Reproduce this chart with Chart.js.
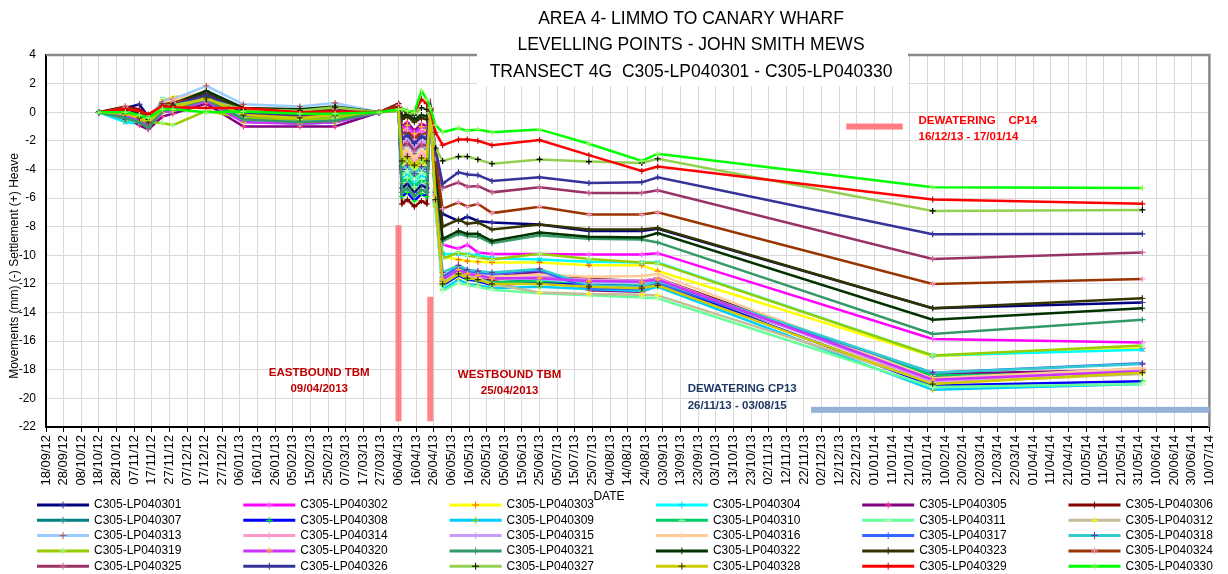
<!DOCTYPE html>
<html>
<head>
<meta charset="utf-8">
<title>Transect 4G - John Smith Mews</title>
<script src="https://cdn.jsdelivr.net/npm/chart.js@4.4.1/dist/chart.umd.min.js"></script>
<style>
  html, body { margin: 0; padding: 0; background: #fff; }
  canvas { display: block; }
</style>
</head>
<body>
<canvas id="settlementChart" width="1228" height="574"></canvas>
<script>
// Tanggal survei (dd/mm/yy)
const SURVEY_DATES = [
  "18/10/12", "02/11/12", "10/11/12", "15/11/12", "23/11/12", "29/11/12",
  "18/12/12", "08/01/13", "09/02/13", "01/03/13", "26/03/13", "06/04/13",
  "08/04/13", "11/04/13", "15/04/13", "19/04/13", "22/04/13", "24/04/13", "27/04/13",
  "01/05/13", "10/05/13", "15/05/13", "21/05/13", "29/05/13", "25/06/13",
  "23/07/13", "22/08/13", "31/08/13", "03/02/14", "02/06/14"
];

// Label sumbu X tiap 10 hari
const TICK_LABELS = [
  "18/09/12", "28/09/12", "08/10/12", "18/10/12", "28/10/12", "07/11/12", "17/11/12", "27/11/12",
  "07/12/12", "17/12/12", "27/12/12", "06/01/13", "16/01/13", "26/01/13", "05/02/13", "15/02/13",
  "25/02/13", "07/03/13", "17/03/13", "27/03/13", "06/04/13", "16/04/13", "26/04/13", "06/05/13",
  "16/05/13", "26/05/13", "05/06/13", "15/06/13", "25/06/13", "05/07/13", "15/07/13", "25/07/13",
  "04/08/13", "14/08/13", "24/08/13", "03/09/13", "13/09/13", "23/09/13", "03/10/13", "13/10/13",
  "23/10/13", "02/11/13", "12/11/13", "22/11/13", "02/12/13", "12/12/13", "22/12/13", "01/01/14",
  "11/01/14", "21/01/14", "31/01/14", "10/02/14", "20/02/14", "02/03/14", "12/03/14", "22/03/14",
  "01/04/14", "11/04/14", "21/04/14", "01/05/14", "11/05/14", "21/05/14", "31/05/14", "10/06/14",
  "20/06/14", "30/06/14", "10/07/14"
];

const Y_TICKS_MIN = -22;
const Y_TICKS_MAX = 4;

// Nama titik levelling
const POINT_NAMES = [
  "C305-LP040301", "C305-LP040302", "C305-LP040303", "C305-LP040304", "C305-LP040305", "C305-LP040306",
  "C305-LP040307", "C305-LP040308", "C305-LP040309", "C305-LP040310", "C305-LP040311", "C305-LP040312",
  "C305-LP040313", "C305-LP040314", "C305-LP040315", "C305-LP040316", "C305-LP040317", "C305-LP040318",
  "C305-LP040319", "C305-LP040320", "C305-LP040321", "C305-LP040322", "C305-LP040323", "C305-LP040324",
  "C305-LP040325", "C305-LP040326", "C305-LP040327", "C305-LP040328", "C305-LP040329", "C305-LP040330"
];

const LINE_COLORS = [
  "#000080", "#FF00FF", "#FFFF00", "#00FFFF", "#800080", "#800000",
  "#008080", "#0000FF", "#00CCFF", "#00CC66", "#66FF99", "#C4BD97",
  "#99CCFF", "#FF99CC", "#CC99FF", "#FFCC99", "#3366FF", "#33CCCC",
  "#99CC00", "#CC33FF", "#339966", "#003300", "#333300", "#993300",
  "#993366", "#333399", "#92D050", "#CCCC00", "#FF0000", "#00FF00"
];

const MARKER_COLORS = [
  "#333399", "#FF66FF", "#FF6600", "#00CCFF", "#FF3399", "#800000",
  "#339999", "#00FF00", "#99CC00", "#99FF99", "#CCFFCC", "#FFFF00",
  "#C0504D", "#FF99CC", "#CC99FF", "#FFCC99", "#3366FF", "#7030A0",
  "#99FF99", "#FFC000", "#339966", "#003300", "#333300", "#FF99CC",
  "#CC6699", "#333399", "#000000", "#333300", "#CC0000", "#99FF66"
];

// Nilai pergerakan (mm) tiap titik, urut sesuai SURVEY_DATES
const lp301 = [0, 0.3, 0.55, -0.3, 0.2, 0.3, 1.1, -0.2, -0.4, -0.2, 0, 0.4, -5.3, -5.0, -5.6, -5.1, -5.3, 0.2, -4.0, -7.1, -7.6, -7.3, -7.6, -7.7, -7.85, -8.3, -8.3, -8.15, -13.7, -13.3];
const lp302 = [0, -0.2, -0.5, -0.9, 0.1, 0.2, 0.9, -0.6, -0.7, -0.6, 0, 0.3, -1.5, -1.2, -1.8, -1.3, -1.5, 0.2, -4.8, -9.25, -9.55, -9.25, -9.8, -9.9, -9.9, -9.95, -9.95, -9.85, -15.85, -16.1];
const lp303 = [0, -0.1, -0.4, -0.8, 0.3, 0.4, 1.0, -0.3, -0.5, -0.4, 0, 0.2, -3.8, -3.5, -4.1, -3.6, -3.8, 0.1, -5.3, -10.1, -10.3, -10.4, -10.45, -10.5, -10.5, -10.7, -10.7, -11.1, -17.05, -16.5];
const lp304 = [0, -0.7, -0.8, -0.9, 0.9, 0.8, 1.4, -0.6, -0.7, -0.5, 0, 0.2, -4.6, -4.3, -4.9, -4.4, -4.6, 0.1, -5.4, -9.9, -9.9, -9.95, -10.0, -10.2, -10.3, -10.45, -10.5, -10.5, -17.0, -16.6];
const lp305 = [0, -0.3, -0.9, -1.2, -0.3, -0.1, 0.6, -1.0, -1.0, -1.0, 0, 0.3, -1.0, -0.7, -1.3, -0.8, -1.0, 0.2, -6.1, -11.6, -10.9, -11.2, -11.3, -11.5, -11.15, -12.45, -12.55, -12.1, -18.3, -18.0];
const lp306 = [0, 0.4, 0.2, -0.3, 0.6, 0.7, 1.2, 0.0, -0.3, 0.1, 0, 0.6, -6.4, -6.1, -6.6, -6.2, -6.4, 0.3, -6.2, -11.8, -11.1, -11.4, -11.6, -11.7, -11.4, -11.65, -11.8, -11.6, -18.5, -18.0];
const lp307 = [0, -0.4, -0.6, -1.0, 0.0, 0.1, 0.8, -0.6, -0.8, -0.7, 0, 0.1, -4.3, -4.0, -4.6, -4.1, -4.3, 0.1, -6.3, -12.0, -11.2, -11.5, -11.6, -11.9, -11.75, -11.95, -12.0, -11.85, -18.6, -18.1];
const lp308 = [0, -0.3, -0.5, -0.8, 0.2, 0.3, 1.0, -0.4, -0.6, -0.4, 0, 0.2, -5.9, -5.6, -6.2, -5.7, -5.9, 0.2, -6.4, -12.1, -11.4, -11.7, -11.8, -12.1, -11.9, -12.05, -12.15, -11.95, -19.1, -18.8];
const lp309 = [0, -0.6, -0.7, -0.9, 0.7, 0.6, 1.3, -0.5, -0.7, -0.5, 0, 0.2, -5.0, -4.7, -5.3, -4.8, -5.0, 0.1, -6.6, -12.4, -11.7, -12.0, -12.1, -12.3, -12.2, -12.35, -12.5, -12.2, -19.4, -19.0];
const lp310 = [0, -0.4, -0.6, -0.9, 0.4, 0.5, 1.1, -0.4, -0.6, -0.5, 0, 0.2, -4.9, -4.6, -5.2, -4.7, -4.9, 0.1, -6.3, -12.0, -11.3, -11.6, -11.7, -11.9, -11.8, -11.9, -12.0, -11.8, -18.4, -18.2];
const lp311 = [0, -0.5, -0.7, -0.8, 0.95, 0.8, 1.2, -0.5, -0.8, -0.6, 0, 0.2, -4.4, -4.1, -4.7, -4.2, -4.4, 0.1, -6.8, -12.5, -11.9, -12.1, -12.2, -12.4, -12.65, -12.8, -12.95, -13.0, -19.2, -19.0];
const lp312 = [0, 0.1, -0.2, -0.6, 0.8, 1.05, 1.3, 0.2, 0.0, 0.3, 0, 0.4, -3.3, -3.0, -3.6, -3.1, -3.3, 0.2, -6.0, -11.9, -11.2, -11.5, -11.6, -12.0, -12.6, -12.7, -12.75, -12.8, -18.9, -18.3];
const lp313 = [0, 0.2, 0.1, -0.4, 0.7, 0.9, 1.85, 0.55, 0.4, 0.65, 0, 0.4, -2.6, -2.3, -2.9, -2.4, -2.6, 0.3, -5.8, -11.8, -11.0, -11.3, -11.4, -11.6, -11.65, -11.9, -11.95, -11.8, -18.7, -18.0];
const lp314 = [0, -0.1, -0.3, -0.7, 0.5, 0.6, 1.4, 0.0, -0.2, 0.1, 0, 0.3, -3.1, -2.8, -3.4, -2.9, -3.1, 0.2, -5.9, -11.7, -10.9, -11.3, -11.5, -11.6, -11.55, -11.7, -11.8, -11.6, -18.9, -17.95];
const lp315 = [0, -0.1, -0.4, -0.8, 0.3, 0.5, 1.3, -0.2, -0.3, -0.2, 0, 0.3, -2.2, -1.9, -2.5, -2.0, -2.2, 0.2, -5.7, -11.6, -10.9, -11.2, -11.4, -11.5, -11.5, -11.75, -11.8, -11.7, -18.8, -17.9];
const lp316 = [0, 0.0, -0.3, -0.6, 0.6, 0.8, 1.5, 0.1, -0.1, 0.2, 0, 0.4, -2.9, -2.6, -3.2, -2.7, -2.9, 0.2, -5.6, -11.6, -10.9, -11.2, -11.3, -11.5, -11.35, -11.5, -11.45, -11.3, -18.6, -17.9];
const lp317 = [0, -0.2, -0.4, -0.7, 0.4, 0.5, 1.2, -0.3, -0.5, -0.3, 0, 0.2, -1.8, -1.5, -2.1, -1.6, -1.8, 0.2, -5.6, -11.5, -10.8, -11.1, -11.2, -11.3, -11.05, -12.3, -12.35, -11.95, -18.2, -17.55];
const lp318 = [0, -0.5, -0.6, -0.8, 0.6, 0.6, 1.3, -0.4, -0.6, -0.4, 0, 0.2, -4.0, -3.7, -4.3, -3.8, -4.0, 0.1, -5.5, -11.2, -10.7, -11.0, -11.1, -11.2, -10.95, -12.1, -12.2, -11.8, -18.2, -17.6];
const lp319 = [0, -0.2, -0.5, -0.7, -0.75, -0.9, 0.1, -0.4, -0.5, -0.4, 0, 0.1, -3.6, -3.3, -3.9, -3.4, -3.6, 0.1, -5.5, -10.25, -9.8, -10.0, -10.15, -10.3, -9.9, -10.25, -10.5, -10.55, -17.0, -16.3];
const lp320 = [0, -0.2, -0.6, -1.0, 0.0, 0.1, 0.8, -0.7, -0.8, -0.7, 0, 0.2, -1.2, -0.9, -1.5, -1.0, -1.2, 0.2, -5.8, -11.7, -11.0, -11.3, -11.4, -11.6, -11.6, -11.8, -11.85, -11.7, -18.7, -18.1];
const lp321 = [0, -0.4, -0.7, -1.1, 0.1, 0.2, 0.9, -0.5, -0.7, -0.6, 0, 0.2, -5.6, -5.3, -5.9, -5.4, -5.6, 0.2, -4.4, -9.0, -8.5, -8.65, -8.7, -9.15, -8.6, -8.85, -8.9, -9.1, -15.5, -14.5];
const lp322 = [0, 0.1, -0.2, -0.6, 0.5, 0.6, 1.5, 0.3, 0.2, 0.4, 0, 0.3, -0.3, -0.1, -0.5, -0.2, -0.3, 0.3, -3.8, -8.85, -8.3, -8.5, -8.5, -9.0, -8.4, -8.7, -8.75, -8.45, -14.5, -13.7];
const lp323 = [0, 0.2, -0.1, -0.5, 0.5, 0.6, 1.3, 0.2, 0.0, 0.3, 0, 0.3, -0.5, -0.3, -0.7, -0.4, -0.5, 0.2, -3.6, -8.0, -7.5, -7.8, -7.7, -8.2, -7.85, -8.2, -8.2, -8.1, -13.7, -13.0];
const lp324 = [0, 0.35, 0.1, -0.5, 0.5, 0.7, 1.0, 0.1, -0.2, 0.2, 0, 0.5, -1.6, -1.3, -1.9, -1.4, -1.6, 0.3, -3.2, -6.75, -6.3, -6.6, -6.4, -7.05, -6.6, -7.15, -7.15, -7.0, -12.0, -11.65];
const lp325 = [0, 0.0, -0.3, -0.7, 0.3, 0.4, 1.1, -0.1, -0.3, -0.1, 0, 0.3, -2.4, -2.1, -2.7, -2.2, -2.4, 0.2, -2.7, -5.3, -4.9, -5.2, -5.15, -5.6, -5.25, -5.65, -5.65, -5.45, -10.25, -9.8];
const lp326 = [0, 0.1, -0.2, -0.6, 0.4, 0.5, 1.2, 0.0, -0.2, 0.1, 0, 0.3, -1.9, -1.6, -2.2, -1.7, -1.9, 0.2, -2.6, -5.0, -4.2, -4.35, -4.4, -4.8, -4.55, -4.95, -4.9, -4.55, -8.53, -8.5];
const lp327 = [0, 0.1, -0.3, -0.5, 0.4, 0.5, 0.9, 0.2, 0.1, 0.35, 0, 0.2, 0.1, 0.0, -0.2, 0.3, 0.2, -0.5, -2.5, -3.4, -3.1, -3.1, -3.3, -3.6, -3.3, -3.45, -3.55, -3.25, -6.9, -6.83];
const lp328 = [0, -0.1, -0.4, -0.7, 0.2, 0.3, 1.0, -0.2, -0.4, -0.2, 0, 0.2, -3.4, -3.1, -3.7, -3.2, -3.4, 0.1, -6.1, -12.0, -11.3, -11.6, -11.7, -12.0, -12.0, -12.2, -12.3, -12.1, -19.0, -18.2];
const lp329 = [0, 0.2, 0.1, -0.15, 0.45, 0.35, 0.3, 0.3, 0.0, 0.05, 0, 0.3, 0.2, 0.1, 0.0, 0.9, 0.6, 0.2, -1.4, -2.3, -1.9, -1.9, -2.0, -2.3, -1.95, -3.0, -4.1, -3.8, -6.1, -6.4];
const lp330 = [0, 0.0, -0.2, -0.4, 0.2, 0.2, 0.0, 0.05, -0.1, -0.1, 0, 0.2, 0.2, 0.1, 0.0, 1.5, 0.9, 0.3, -0.9, -1.4, -1.1, -1.3, -1.2, -1.4, -1.2, -2.2, -3.4, -2.9, -5.24, -5.3];

const SERIES_VALUES = [
  lp301, lp302, lp303, lp304, lp305, lp306, lp307, lp308, lp309, lp310,
  lp311, lp312, lp313, lp314, lp315, lp316, lp317, lp318, lp319, lp320,
  lp321, lp322, lp323, lp324, lp325, lp326, lp327, lp328, lp329, lp330
];

// Anotasi (tanggal + nilai mm)
const TBM_BARS = [
  { date: "06/04/13", from: -7.9, to: -21.6 },
  { date: "24/04/13", from: -12.9, to: -21.6 }
];
const DEWATERING_BARS = [
  { from: "26/11/13", to: "10/07/14", y: -20.8, color: "#95B3D7" },
  { from: "16/12/13", to: "17/01/14", y: -1.0, color: "#FF7C80" }
];
const NOTES = [
  { date: "20/02/13", y: -18.2, align: "center", color: "#C00000", lines: ["EASTBOUND TBM", "09/04/2013"] },
  { date: "08/06/13", y: -18.35, align: "center", color: "#C00000", lines: ["WESTBOUND TBM", "25/04/2013"] },
  { date: "17/09/13", y: -19.35, align: "left", color: "#1F3864", lines: ["DEWATERING CP13", "26/11/13 - 03/08/15"] },
  { date: "26/01/14", y: -0.6, align: "left", color: "#FF0000", lines: ["DEWATERING    CP14", "16/12/13 - 17/01/14"] }
];

const TITLE_LINES = [
  "AREA 4- LIMMO TO CANARY WHARF",
  "LEVELLING POINTS - JOHN SMITH MEWS",
  "TRANSECT 4G  C305-LP040301 - C305-LP040330"
];
const Y_TITLE = "Movements (mm) (-) Settlement (+) Heave";
const X_TITLE = "DATE";

const FONT = '"Liberation Sans", Arial, sans-serif';

// Ubah tanggal dd/mm/yy jadi jumlah hari sejak 18/09/12
function toDay(str) {
  const [d, m, y] = str.split("/").map(Number);
  return (Date.UTC(2000 + y, m - 1, d) - Date.UTC(2012, 8, 18)) / 86400000;
}

// Bingkai atas/kanan, kotak judul dan judul sumbu
const decorPlugin = {
  id: "decor",
  beforeDatasetsDraw(chart) {
    const { ctx, chartArea } = chart;
    ctx.save();
    ctx.strokeStyle = "#898989";
    ctx.lineWidth = 2.5;
    ctx.beginPath();
    ctx.moveTo(chartArea.left, chartArea.top);
    ctx.lineTo(chartArea.right, chartArea.top);
    ctx.lineTo(chartArea.right, chartArea.bottom);
    ctx.stroke();

    ctx.fillStyle = "#fff";
    ctx.fillRect(477, 0, 431, 86);
    ctx.fillStyle = "#000";
    ctx.font = "17.5px " + FONT;
    ctx.textAlign = "center";
    ctx.textBaseline = "middle";
    TITLE_LINES.forEach((t, i) => ctx.fillText(t, 691, 19 + i * 26.5));

    ctx.font = "12px " + FONT;
    ctx.fillText(X_TITLE, 609, 497);
    ctx.translate(15, 266);
    ctx.rotate(-Math.PI / 2);
    ctx.fillText(Y_TITLE, 0, 0);
    ctx.restore();
  }
};

// Batang TBM, batang dewatering dan teks catatan
const annotationPlugin = {
  id: "notes",
  afterDatasetsDraw(chart) {
    const { ctx } = chart;
    const xs = chart.scales.x;
    const ys = chart.scales.y;
    ctx.save();
    ctx.fillStyle = "rgba(255, 110, 115, 0.85)";
    TBM_BARS.forEach(b => {
      const x = xs.getPixelForValue(toDay(b.date));
      const y1 = ys.getPixelForValue(b.from);
      const y2 = ys.getPixelForValue(b.to);
      ctx.fillRect(x - 3, y1, 6, y2 - y1);
    });
    DEWATERING_BARS.forEach(b => {
      const x1 = xs.getPixelForValue(toDay(b.from));
      const x2 = xs.getPixelForValue(toDay(b.to));
      const y = ys.getPixelForValue(b.y);
      ctx.fillStyle = b.color;
      ctx.fillRect(x1, y - 3, x2 - x1, 6);
    });
    ctx.font = "bold 11.5px " + FONT;
    ctx.textBaseline = "middle";
    NOTES.forEach(n => {
      const x = xs.getPixelForValue(toDay(n.date));
      const y = ys.getPixelForValue(n.y);
      ctx.fillStyle = n.color;
      ctx.textAlign = n.align;
      n.lines.forEach((line, i) => ctx.fillText(line, x, y + i * 16.5));
    });
    ctx.restore();
  }
};

// Legenda 6 kolom di bawah
const legendPlugin = {
  id: "gridLegend",
  afterDraw(chart) {
    const { ctx } = chart;
    ctx.save();
    ctx.font = "12px " + FONT;
    ctx.textAlign = "left";
    ctx.textBaseline = "middle";
    chart.data.datasets.forEach((ds, i) => {
      const x0 = 37 + (i % 6) * 206.3;
      const y = 505 + Math.floor(i / 6) * 15.3;
      ctx.strokeStyle = ds.borderColor;
      ctx.lineWidth = 3;
      ctx.beginPath();
      ctx.moveTo(x0, y);
      ctx.lineTo(x0 + 52, y);
      ctx.stroke();
      ctx.strokeStyle = ds.pointBorderColor;
      ctx.lineWidth = 1;
      ctx.beginPath();
      ctx.moveTo(x0 + 26, y - 3.5);
      ctx.lineTo(x0 + 26, y + 3.5);
      ctx.moveTo(x0 + 22.5, y);
      ctx.lineTo(x0 + 29.5, y);
      ctx.stroke();
      ctx.fillStyle = "#000";
      ctx.fillText(ds.label, x0 + 57, y);
    });
    ctx.restore();
  }
};

function initChart() {
  const days = SURVEY_DATES.map(toDay);

  const datasets = POINT_NAMES.map((name, i) => ({
    label: name,
    data: SERIES_VALUES[i].map((v, k) => ({ x: days[k], y: v })),
    borderColor: LINE_COLORS[i],
    backgroundColor: LINE_COLORS[i],
    borderWidth: 2.5,
    pointStyle: i === 3 ? "crossRot" : "cross",
    pointRadius: 3,
    pointBorderWidth: 1.2,
    pointBorderColor: MARKER_COLORS[i],
    pointBackgroundColor: MARKER_COLORS[i],
    tension: 0,
    // seri terakhir digambar paling atas (seperti Excel)
    order: POINT_NAMES.length - i
  }));

  const ctx = document.getElementById("settlementChart").getContext("2d");
  new Chart(ctx, {
    type: "line",
    data: { datasets: datasets },
    options: {
      responsive: false,
      animation: false,
      devicePixelRatio: 1,
      layout: { padding: { top: 55, right: 12, bottom: 72, left: 0 } },
      plugins: {
        legend: { display: false },
        tooltip: { enabled: false },
        title: { display: false }
      },
      scales: {
        x: {
          type: "linear",
          min: 0,
          max: (TICK_LABELS.length - 1) * 10,
          afterFit(scale) { scale.height = 75; },
          ticks: {
            stepSize: 10,
            autoSkip: false,
            minRotation: 90,
            maxRotation: 90,
            color: "#000",
            font: { family: FONT, size: 13 },
            callback: (value) => TICK_LABELS[Math.round(value / 10)]
          },
          grid: { color: "#D9D9D9", tickLength: 5, tickColor: "#000" },
          border: { color: "#000", width: 2 }
        },
        y: {
          min: Y_TICKS_MIN,
          max: Y_TICKS_MAX,
          afterFit(scale) { scale.width = 46; },
          ticks: {
            stepSize: 2,
            padding: 10,
            color: "#000",
            font: { family: FONT, size: 12 }
          },
          grid: { color: "#D9D9D9", drawTicks: false },
          border: { color: "#000", width: 2 }
        }
      }
    },
    plugins: [decorPlugin, annotationPlugin, legendPlugin]
  });
}

document.addEventListener("DOMContentLoaded", function () {
  initChart();
});
</script>
</body>
</html>
